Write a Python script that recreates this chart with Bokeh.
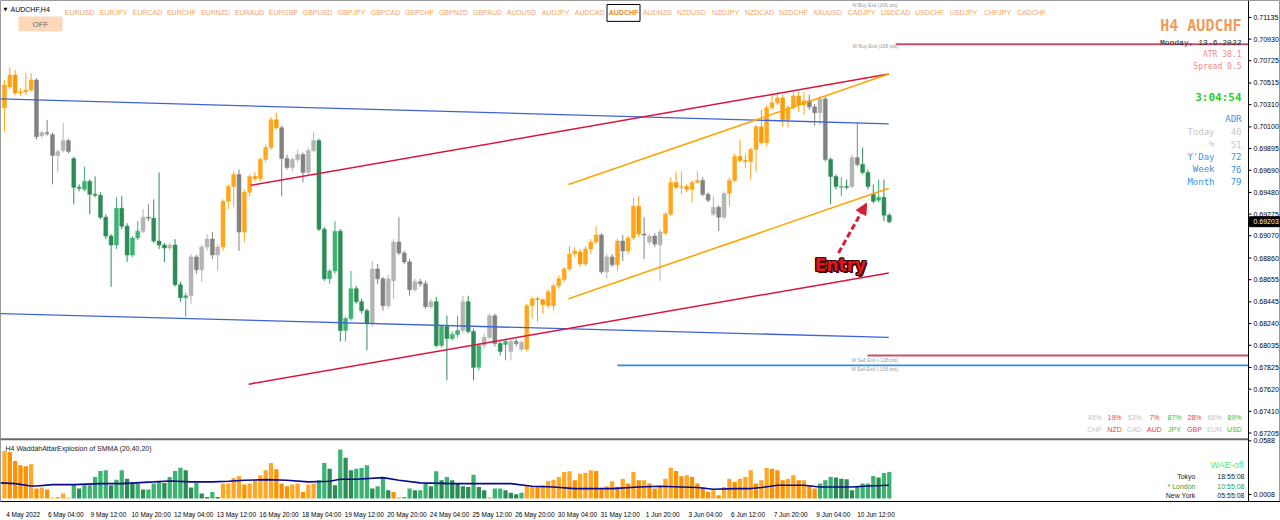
from bokeh.plotting import figure
from bokeh.models import Range1d, FixedTicker, Arrow, NormalHead
from bokeh.core.properties import value
from bokeh.embed import file_html
from bokeh.resources import INLINE

# ---------------- DATA ----------------
opens = [0.70280, 0.70477, 0.70590, 0.70421, 0.70430, 0.70449, 0.70543, 0.70017, 0.70045, 0.70026,
         0.69829, 0.69876, 0.69970, 0.69800, 0.69528, 0.69509, 0.69585, 0.69462, 0.69453, 0.69246,
         0.69067, 0.68983, 0.69330, 0.69161, 0.68889, 0.69049, 0.69114, 0.69246, 0.69236, 0.69020,
         0.68983, 0.68954, 0.68983, 0.68607, 0.68484, 0.68503, 0.68870, 0.68748, 0.68963, 0.69039,
         0.68889, 0.68963, 0.69396, 0.69537, 0.69650, 0.69105, 0.69481, 0.69631, 0.69612, 0.69791,
         0.69904, 0.70167, 0.70092, 0.69800, 0.69716, 0.69791, 0.69838, 0.69669, 0.69876, 0.69970,
         0.69133, 0.68663, 0.68738, 0.69114, 0.68174, 0.68287, 0.68569, 0.68447, 0.68362, 0.68240,
         0.68757, 0.68663, 0.68409, 0.68644, 0.69011, 0.68907, 0.68823, 0.68560, 0.68635, 0.68616,
         0.68400, 0.68447, 0.68033, 0.68212, 0.68099, 0.68137, 0.68174, 0.68447, 0.68165, 0.67826,
         0.68033, 0.68109, 0.68315, 0.68052, 0.68043, 0.67977, 0.68071, 0.67996, 0.67996, 0.68409,
         0.68475, 0.68466, 0.68409, 0.68409, 0.68597, 0.68654, 0.68757, 0.68898, 0.68917, 0.68804,
         0.68945, 0.69011, 0.69077, 0.68729, 0.68870, 0.68795, 0.69020, 0.68927, 0.69049, 0.69349,
         0.69086, 0.69011, 0.69067, 0.68983, 0.69095, 0.69274, 0.69575, 0.69528, 0.69537, 0.69509,
         0.69575, 0.69594, 0.69462, 0.69274, 0.69340, 0.69246, 0.69471, 0.69594, 0.69819, 0.69782,
         0.69772, 0.69885, 0.70101, 0.69951, 0.70280, 0.70327, 0.70374, 0.70167, 0.70280, 0.70393,
         0.70308, 0.70346, 0.70289, 0.70233, 0.70364, 0.69791, 0.69631, 0.69528, 0.69537, 0.69537,
         0.69810, 0.69744, 0.69669, 0.69462, 0.69406, 0.69434, 0.69265]
highs = [0.70543, 0.70665, 0.70637, 0.70468, 0.70609, 0.70609, 0.70562, 0.70064, 0.70167, 0.70045,
         0.69885, 0.70139, 0.69988, 0.69819, 0.69556, 0.69725, 0.69603, 0.69631, 0.69481, 0.69274,
         0.69086, 0.69434, 0.69443, 0.69189, 0.69067, 0.69208, 0.69321, 0.69368, 0.69415, 0.69669,
         0.69001, 0.69001, 0.69039, 0.68635, 0.68531, 0.68898, 0.68889, 0.68983, 0.69086, 0.69105,
         0.68992, 0.69415, 0.69556, 0.69679, 0.69697, 0.69509, 0.69650, 0.69669, 0.69810, 0.69932,
         0.70195, 0.70233, 0.70111, 0.69838, 0.69810, 0.69885, 0.69857, 0.69904, 0.70054, 0.69988,
         0.69152, 0.68757, 0.69208, 0.69133, 0.68306, 0.68738, 0.68597, 0.68475, 0.68381, 0.68832,
         0.68804, 0.68682, 0.68701, 0.69039, 0.69246, 0.68927, 0.68851, 0.68663, 0.68663, 0.68644,
         0.68475, 0.68494, 0.68231, 0.68315, 0.68165, 0.68315, 0.68503, 0.68503, 0.68193, 0.68052,
         0.68146, 0.68334, 0.68334, 0.68071, 0.68099, 0.68090, 0.68099, 0.68080, 0.68428, 0.68494,
         0.68494, 0.68475, 0.68569, 0.68616, 0.68691, 0.68776, 0.68973, 0.68963, 0.68945, 0.68973,
         0.69039, 0.69161, 0.69095, 0.68898, 0.68898, 0.69039, 0.69077, 0.69067, 0.69434, 0.69443,
         0.69246, 0.69086, 0.69095, 0.69133, 0.69293, 0.69622, 0.69679, 0.69679, 0.69556, 0.69594,
         0.69679, 0.69622, 0.69481, 0.69443, 0.69359, 0.69490, 0.69622, 0.69847, 0.69979, 0.69838,
         0.69904, 0.70120, 0.70261, 0.70308, 0.70421, 0.70430, 0.70402, 0.70308, 0.70440, 0.70430,
         0.70430, 0.70402, 0.70317, 0.70393, 0.70383, 0.69810, 0.69650, 0.69622, 0.69603, 0.69838,
         0.70139, 0.69904, 0.69697, 0.69556, 0.69603, 0.69603, 0.69283]
lows = [0.70054, 0.70458, 0.70402, 0.70393, 0.70402, 0.70430, 0.69979, 0.69998, 0.70017, 0.69556,
        0.69669, 0.69857, 0.69847, 0.69368, 0.69490, 0.69490, 0.69274, 0.69434, 0.69227, 0.69039,
        0.68588, 0.68945, 0.69133, 0.68823, 0.68870, 0.69030, 0.69095, 0.69208, 0.69001, 0.68945,
        0.68823, 0.68927, 0.68588, 0.68447, 0.68306, 0.68428, 0.68710, 0.68635, 0.68927, 0.68851,
        0.68738, 0.68927, 0.69321, 0.69340, 0.68927, 0.69011, 0.69443, 0.69585, 0.69585, 0.69763,
        0.69885, 0.70073, 0.69443, 0.69697, 0.69679, 0.69763, 0.69575, 0.69650, 0.69857, 0.69114,
        0.68644, 0.68616, 0.68710, 0.68071, 0.68071, 0.68268, 0.68428, 0.68334, 0.67987, 0.68212,
        0.68616, 0.68362, 0.68381, 0.68475, 0.68889, 0.68804, 0.68503, 0.68541, 0.68588, 0.68381,
        0.68381, 0.68014, 0.68014, 0.67704, 0.68080, 0.68109, 0.68146, 0.68146, 0.67704, 0.67798,
        0.68005, 0.68090, 0.68023, 0.67939, 0.67892, 0.67892, 0.68023, 0.67977, 0.67977, 0.68287,
        0.68259, 0.68334, 0.68381, 0.68362, 0.68569, 0.68635, 0.68738, 0.68870, 0.68776, 0.68785,
        0.68898, 0.68992, 0.68710, 0.68663, 0.68776, 0.68738, 0.68832, 0.68898, 0.69030, 0.69058,
        0.68851, 0.68983, 0.68963, 0.68644, 0.69077, 0.69255, 0.69509, 0.69462, 0.69481, 0.69387,
        0.69566, 0.69443, 0.69387, 0.69255, 0.69114, 0.69227, 0.69349, 0.69575, 0.69763, 0.69716,
        0.69603, 0.69679, 0.69932, 0.69913, 0.70261, 0.70308, 0.70101, 0.70092, 0.70261, 0.70242,
        0.70214, 0.70261, 0.70111, 0.70120, 0.69772, 0.69368, 0.69509, 0.69443, 0.69509, 0.69519,
        0.69725, 0.69650, 0.69509, 0.69377, 0.69387, 0.69208, 0.69189]
closes = [0.70496, 0.70590, 0.70421, 0.70430, 0.70449, 0.70543, 0.70007, 0.70045, 0.70035, 0.69829,
          0.69866, 0.69970, 0.69866, 0.69528, 0.69519, 0.69585, 0.69462, 0.69453, 0.69246, 0.69067,
          0.68983, 0.69330, 0.69161, 0.68889, 0.69049, 0.69114, 0.69246, 0.69236, 0.69020, 0.68983,
          0.68954, 0.68983, 0.68607, 0.68484, 0.68503, 0.68870, 0.68748, 0.68963, 0.69039, 0.68889,
          0.68963, 0.69396, 0.69537, 0.69650, 0.69105, 0.69481, 0.69631, 0.69612, 0.69791, 0.69904,
          0.70167, 0.70092, 0.69800, 0.69716, 0.69791, 0.69838, 0.69669, 0.69876, 0.69970, 0.69133,
          0.68663, 0.68738, 0.69114, 0.68174, 0.68287, 0.68569, 0.68447, 0.68362, 0.68240, 0.68757,
          0.68663, 0.68409, 0.68663, 0.69011, 0.68907, 0.68823, 0.68560, 0.68635, 0.68616, 0.68400,
          0.68447, 0.68033, 0.68212, 0.68099, 0.68137, 0.68174, 0.68447, 0.68165, 0.67826, 0.68033,
          0.68109, 0.68315, 0.68052, 0.67977, 0.68071, 0.68071, 0.68052, 0.68061, 0.68409, 0.68475,
          0.68466, 0.68419, 0.68541, 0.68597, 0.68663, 0.68757, 0.68898, 0.68927, 0.68804, 0.68945,
          0.69011, 0.69077, 0.68729, 0.68870, 0.68795, 0.69020, 0.68927, 0.69049, 0.69349, 0.69086,
          0.69077, 0.69067, 0.68992, 0.69105, 0.69274, 0.69575, 0.69528, 0.69537, 0.69509, 0.69575,
          0.69594, 0.69462, 0.69406, 0.69340, 0.69246, 0.69471, 0.69594, 0.69819, 0.69782, 0.69772,
          0.69885, 0.70101, 0.69951, 0.70280, 0.70327, 0.70374, 0.70167, 0.70280, 0.70393, 0.70308,
          0.70346, 0.70289, 0.70233, 0.70364, 0.69791, 0.69631, 0.69537, 0.69537, 0.69528, 0.69810,
          0.69744, 0.69669, 0.69537, 0.69396, 0.69434, 0.69265, 0.69203]

# colour family of each candle (O = orange, G = grey, N = green)
candle_family = ("O" * 6 + "G" * 7 + "N" * 13 + "G" * 2 + "N" * 3 + "G" + "N" * 3 + "G" * 6 +
                 "O" * 3 + "G" + "O" * 7 + "G" * 7 + "N" * 10 + "G" * 12 + "N" * 5 + "G" +
                 "N" * 3 + "G" * 3 + "N" * 2 + "G" * 3 + "O" * 14 + "G" * 3 + "O" + "G" +
                 "O" * 3 + "G" * 4 + "O" * 7 + "G" * 5 + "O" * 15 + "G" * 4 + "N" * 4 + "G" * 2 + "N" * 6)

# Waddah Attar Explosion histogram
wae_hist = [0.0468, 0.0458, 0.0370, 0.0327, 0.0317, 0.0337, 0.0098, 0.0108, 0.0088, 0.0007, 0.0016, 0.0049, 0.0007,
            0.0137, 0.0098, 0.0131, 0.0131, 0.0213, 0.0271, 0.0278, 0.0131, 0.0186, 0.0278, 0.0196, 0.0147, 0.0147,
            0.0088, 0.0088, 0.0147, 0.0164, 0.0154, 0.0213, 0.0271, 0.0304, 0.0278, 0.0108, 0.0154, 0.0049, 0.0016,
            0.0065, 0.0016,
            0.0147, 0.0147, 0.0203, 0.0222, 0.0137, 0.0147, 0.0180, 0.0229, 0.0278, 0.0350, 0.0288, 0.0147, 0.0121,
            0.0137, 0.0147, 0.0065, 0.0137, 0.0147,
            0.0180, 0.0350, 0.0294, 0.0131, 0.0484, 0.0402, 0.0278, 0.0294, 0.0301, 0.0327, 0.0098, 0.0121, 0.0213,
            0.0082,
            0.0065, 0.0010,
            0.0016, 0.0098, 0.0082, 0.0082, 0.0147, 0.0121, 0.0268, 0.0180, 0.0213, 0.0180, 0.0147, 0.0121, 0.0114,
            0.0235, 0.0114, 0.0082, 0.0010, 0.0098, 0.0098, 0.0082, 0.0056, 0.0043, 0.0056,
            0.0121, 0.0121, 0.0114, 0.0131, 0.0173, 0.0186, 0.0213, 0.0262, 0.0268, 0.0180, 0.0245, 0.0252, 0.0278,
            0.0271, 0.0088, 0.0121, 0.0170, 0.0114, 0.0196, 0.0147, 0.0262, 0.0180,
            0.0180, 0.0147, 0.0098, 0.0114, 0.0196, 0.0304, 0.0271, 0.0219, 0.0229, 0.0213, 0.0147, 0.0114, 0.0065,
            0.0082, 0.0033, 0.0114, 0.0196, 0.0164, 0.0196, 0.0213, 0.0278, 0.0147, 0.0180, 0.0301, 0.0294, 0.0278,
            0.0180, 0.0196, 0.0229, 0.0180, 0.0180, 0.0131, 0.0098,
            0.0147, 0.0180, 0.0213, 0.0206, 0.0196, 0.0190, 0.0082, 0.0114, 0.0147, 0.0147, 0.0222, 0.0206, 0.0252,
            0.0262]
wae_family = "o" * 13 + "g" * 28 + "o" * 18 + "g" * 14 + "o" * 2 + "g" * 16 + "o" + "g" * 6 + "o" * 55 + "g" * 14

# explosion line (bar index, value)
expl_bar = [-0.75, 2, 5, 6, 9, 13, 18, 22, 28, 31, 35, 39, 42, 45, 49, 53, 57, 61, 63, 66, 71, 74, 78, 84,
            90, 95, 99, 103, 107, 114, 119, 123, 127, 130, 133, 137, 140, 142, 145, 150, 153, 156, 159, 162, 165.9]
expl_val = [0.0154, 0.0147, 0.0124, 0.0124, 0.0137, 0.0137, 0.0147, 0.0147, 0.0164, 0.0173, 0.0164, 0.0164,
            0.0170, 0.0180, 0.0186, 0.0180, 0.0164, 0.0170, 0.0190, 0.0190, 0.0206, 0.0180, 0.0154, 0.0147,
            0.0147, 0.0147, 0.0121, 0.0114, 0.0098, 0.0098, 0.0114, 0.0121, 0.0114, 0.0108, 0.0092, 0.0098,
            0.0098, 0.0108, 0.0131, 0.0131, 0.0114, 0.0114, 0.0114, 0.0124, 0.0131]

# trend lines: (bar0, price0, bar1, price1)
blue_channel = [(-0.75, 0.70364, 165.9, 0.70129), (-0.75, 0.68334, 165.9, 0.68109)]
red_channel = [(46.2, 0.69547, 165.9, 0.70599), (45.8, 0.67667, 165.9, 0.68719)]
orange_channel = [(105.8, 0.69556, 165.9, 0.70599), (105.8, 0.68475, 165.9, 0.69519)]

# exit levels
exit_names = ["W Buy Exit (168 pts)", "W Sell Exit (-128 pts)", "M Sell Exit (-136 pts)"]
exit_prices = [0.70881, 0.67939, 0.67845]
exit_start_bar = [167.2, 161.9, 115.0]
bid_price = 0.69203

price_ticks = [0.71135, 0.70930, 0.70725, 0.70515, 0.70310, 0.70100, 0.69895, 0.69690, 0.69480, 0.69275,
               0.69070, 0.68860, 0.68655, 0.68445, 0.68240, 0.68035, 0.67825, 0.67620, 0.67410, 0.67205]
ind_scale_labels = ["0.0588", "0.0008"]
time_labels = ["4 May 2022", "6 May 04:00", "9 May 12:00", "10 May 20:00", "12 May 04:00", "13 May 12:00",
               "16 May 20:00", "18 May 04:00", "19 May 12:00", "20 May 20:00", "24 May 04:00", "25 May 12:00",
               "26 May 20:00", "30 May 04:00", "31 May 12:00", "1 Jun 20:00", "3 Jun 04:00", "6 Jun 12:00",
               "7 Jun 20:00", "9 Jun 04:00", "10 Jun 12:00"]
symbols = ["EURUSD", "EURJPY", "EURCAD", "EURCHF", "EURNZD", "EURAUD", "EURGBP", "GBPUSD", "GBPJPY", "GBPCAD",
           "GBPCHF", "GBPNZD", "GBPAUD", "AUDUSD", "AUDJPY", "AUDCAD", "AUDCHF", "AUDNZD", "NZDUSD", "NZDJPY",
           "NZDCAD", "NZDCHF", "XAUUSD", "CADJPY", "USDCAD", "USDCHF", "USDJPY", "CHFJPY", "CADCHF"]
adr_names = ["Today", "%", "Y'Day", "Week", "Month"]
adr_values = ["40", "51", "72", "76", "79"]
cur_names = ["CHF", "NZD", "CAD", "AUD", "JPY", "GBP", "EUR", "USD"]
cur_pct = ["45%", "19%", "53%", "7%", "87%", "28%", "68%", "89%"]
session_names = ["Tokyo", "* London", "New York"]
session_times = ["18:55:08", "10:55:08", "05:55:08"]


# ---------------- helpers for placement (reference pixel -> data) ----------------
def bx(xr):
    return (xr - 4.0) / 5.33


def py(yr):
    return 0.71295 - 0.000094 * yr


def iv(yr):
    return (501.0 - yr) * 0.00098


p = figure(width=1280, height=520, x_range=Range1d(bx(0), bx(1280)), y_range=Range1d(py(504), py(0)),
           output_backend="svg", toolbar_location=None, y_axis_location=None,
           min_border_left=0, min_border_top=0, min_border_bottom=0, min_border_right=0)
p.extra_y_ranges = {"ind": Range1d(iv(504), iv(0))}
p.xgrid.visible = False
p.ygrid.visible = False
p.background_fill_color = "white"
p.border_fill_color = "white"
p.outline_line_color = "#9a9a9a"

AX_FONT = "Liberation Sans"
AXIS_X = bx(1248)

# bottom time axis (labels placed to the right of their bar like MT4)
xa = p.xaxis[0]
tpos = [8 * j + 3.5 for j in range(len(time_labels))]
xa.ticker = FixedTicker(ticks=tpos)
xa.major_label_overrides = {t: s for t, s in zip(tpos, time_labels)}
xa.major_label_text_font_size = "6.5px"
xa.major_label_text_font = AX_FONT
xa.major_label_text_color = "black"
xa.axis_line_color = "black"
xa.major_tick_line_color = None
xa.minor_tick_line_color = None
xa.major_label_standoff = 3

# ---------------- candles ----------------
xs = list(range(len(closes)))
pal = {"O": ("#FFA71A", "#F79C08"), "G": ("#B4B4B4", "#828282"), "N": ("#3CB371", "#2E8B57")}
cols = [pal[f][0] if c >= o else pal[f][1] for f, o, c in zip(candle_family, opens, closes)]
tops, bots = [], []
for o, c in zip(opens, closes):
    t, b = max(o, c), min(o, c)
    if t - b < 0.00005:
        m = (t + b) / 2
        t, b = m + 0.000025, m - 0.000025
    tops.append(t)
    bots.append(b)
p.segment(x0=xs, y0=highs, x1=xs, y1=lows, color=cols, line_width=1)
p.vbar(x=xs, width=0.74, top=tops, bottom=bots, fill_color=cols, line_color=cols, line_width=0.5)

# ---------------- trend lines ----------------
for (a0, b0, a1, b1) in blue_channel:
    p.line([a0, a1], [b0, b1], line_color="#3F63D6", line_width=1.3)
for (a0, b0, a1, b1) in red_channel:
    p.line([a0, a1], [b0, b1], line_color="#DC143C", line_width=1.5)
for (a0, b0, a1, b1) in orange_channel:
    p.line([a0, a1], [b0, b1], line_color="#FFA500", line_width=1.6)

exit_cols = ["#C8506E", "#C8506E", "#2E8FE0"]
exit_w = [2, 2, 1.6]
for nm, pr, sb, cl, w in zip(exit_names, exit_prices, exit_start_bar, exit_cols, exit_w):
    p.line([sb, AXIS_X], [pr, pr], line_color=cl, line_width=w)


def txt(x, y, s, color, size, font=AX_FONT, style="normal", align="left", baseline="middle", yr=None,
        xo=0, yo=0):
    kw = {}
    if yr:
        kw["y_range_name"] = yr
    p.text(x=[x], y=[y], text=[s], text_color=color, text_font_size=size, text_font=value(font),
           text_font_style=style, text_align=align, text_baseline=baseline, x_offset=xo, y_offset=yo, **kw)


txt(bx(852), py(5), "M Buy Exit (206 pts)", "#9a9a9a", "5px")
txt(bx(852), py(46), "W Buy Exit (168 pts)", "#9a9a9a", "5px")
txt(bx(851), py(362), exit_names[1], "#9a9a9a", "5px")
txt(bx(851), py(371), exit_names[2], "#9a9a9a", "5px")

# separator between main chart and indicator window
p.line([bx(0), AXIS_X], [py(441.5), py(441.5)], line_color="#6a6a6a", line_width=2)

# ---------------- price scale drawn at the right edge ----------------
p.line([AXIS_X, AXIS_X], [py(0), py(504)], line_color="black", line_width=1)
ind_ticks = [py(443), py(497)]
for t, s in zip(price_ticks + ind_ticks, [f"{v:.5f}" for v in price_ticks] + ind_scale_labels):
    p.line([AXIS_X, bx(1251)], [t, t], line_color="black", line_width=1)
    txt(bx(1253), t, s, "black", "7px")
p.rect(x=[(bx(1249) + bx(1280)) / 2], y=[bid_price], width=bx(1280) - bx(1249), height=py(217.5) - py(227.5),
       fill_color="black", line_color="black")
txt(bx(1253), bid_price, f"{bid_price:.5f}", "white", "7px")

# ---------------- top bar ----------------
txt(bx(3), py(9), "\u25BC", "black", "5px", font="DejaVu Sans")
txt(bx(10), py(9), "AUDCHF,H4", "black", "7px")
for k, s in enumerate(symbols):
    cx = bx(79 + 34 * k)
    if s == "AUDCHF":
        p.rect(x=[cx], y=[(py(4) + py(21)) / 2], width=33 / 5.33, height=py(4) - py(21),
               fill_color="white", line_color="black", line_width=1)
        txt(cx, py(12.5), s, "#F08A1C", "7px", style="bold", align="center")
    else:
        txt(cx, py(12.5), s, "#F3A469", "7px", align="center")
p.rect(x=[bx(40)], y=[(py(16) + py(31)) / 2], width=44 / 5.33, height=py(16) - py(31),
       fill_color="#FCD8B8", line_color=None)
txt(bx(40), py(24), "OFF", "#6e6e6e", "8px", align="center")

# ---------------- right info panel ----------------
RX = bx(1241)
LX = bx(1214)
txt(RX, py(26), "H4 AUDCHF", "#EE9C58", "15px", font="DejaVu Sans Mono", style="bold", align="right")
txt(RX, py(42), "Monday, 13-6-2022", "#222222", "8px", font="Liberation Mono", align="right")
txt(RX, py(54), "ATR 30.1", "#F08C8C", "8px", font="DejaVu Sans Mono", align="right")
txt(RX, py(66), "Spread 0.5", "#F08C8C", "8px", font="DejaVu Sans Mono", align="right")
txt(RX, py(98), "3:04:54", "#2DCC2D", "11px", font="DejaVu Sans Mono", style="bold", align="right")
txt(RX, py(119), "ADR", "#3D8FE8", "9px", font="DejaVu Sans Mono", align="right")
adr_cols = ["#C8C8C8", "#C8C8C8", "#3D8FE8", "#3D8FE8", "#3D8FE8"]
for k, (nm, v, c) in enumerate(zip(adr_names, adr_values, adr_cols)):
    yy = py(132 + 12.6 * k)
    txt(LX, yy, nm, c, "9px", font="DejaVu Sans Mono", align="right")
    txt(RX, yy, v, c, "9px", font="DejaVu Sans Mono", align="right")

cur_cols = ["#C4C4C4", "#F04040", "#C4C4C4", "#F04040", "#33C233", "#F04040", "#C4C4C4", "#33C233"]
for k, (nm, pc, c) in enumerate(zip(cur_names, cur_pct, cur_cols)):
    cx = bx(1094 + 20 * k)
    txt(cx, py(419), pc, c, "7px", align="center")
    txt(cx, py(432), nm, c, "7px", align="center")

# ---------------- entry arrow ----------------
p.add_layout(Arrow(end=NormalHead(size=11, fill_color="#D42030", line_color="#D42030"),
                   x_start=bx(838), y_start=py(254), x_end=bx(866), y_end=py(204),
                   line_color="#D42030", line_width=3, line_dash="6 3"))
for dx, dy in [(-1.3, 0), (1.3, 0), (0, -1.3), (0, 1.3), (-1, -1), (1, 1), (-1, 1), (1, -1), (1.8, 1.8)]:
    txt(bx(840), py(266), "Entry", "#3a0808", "17px", font="DejaVu Sans", style="bold", align="center",
        xo=dx, yo=dy)
txt(bx(840), py(266), "Entry", "#E8141C", "17px", font="DejaVu Sans", style="bold", align="center")

# ---------------- indicator window ----------------
wcols = []
prev = None
for v, f in zip(wae_hist, wae_family):
    up = prev is None or v >= prev
    if f == "o":
        wcols.append("#FFA726" if up else "#FF9100")
    else:
        wcols.append("#3CB371" if up else "#2E8B57")
    prev = v
p.vbar(x=xs, width=0.8, top=wae_hist, bottom=0, fill_color=wcols, line_color=None, y_range_name="ind")
p.line(expl_bar, expl_val, line_color="#0A0A8C", line_width=1.6, y_range_name="ind")
txt(bx(5), iv(451), "H4 WaddahAttarExplosion of SMMA (20,40,20)", "#222222", "7px", yr="ind")
txt(bx(1243), iv(467), "WAE-off", "#55EE55", "9px", align="right", yr="ind")
for k, (nm, tm) in enumerate(zip(session_names, session_times)):
    yy = iv(479 + 9.5 * k)
    c = "#2E9E4A" if nm.startswith("*") else "#222222"
    txt(bx(1195), yy, nm, c, "7px", align="right", yr="ind")
    txt(bx(1244), yy, tm, c, "7px", align="right", yr="ind")

open("out.html", "w").write(file_html(p, INLINE))
